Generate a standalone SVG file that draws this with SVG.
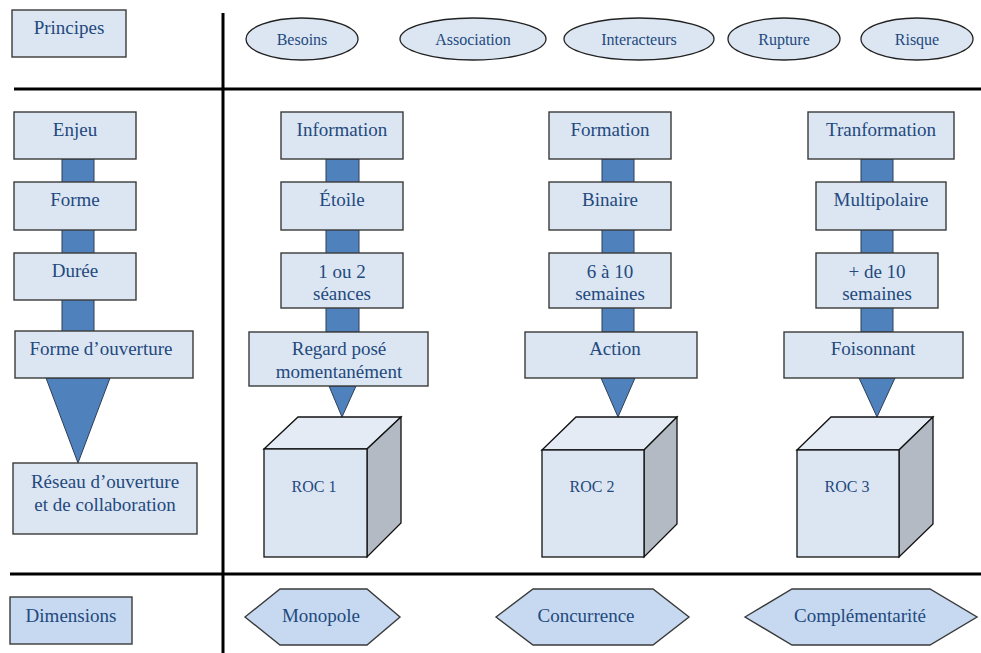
<svg xmlns="http://www.w3.org/2000/svg" width="981" height="653" viewBox="0 0 981 653">
<style>
.box{fill:#dce6f2;stroke:#3a3a3a;stroke-width:1.4}
.dim{fill:#c6d9f0;stroke:#3a3a3a;stroke-width:1.4}
.ell{fill:#dce6f2;stroke:#222;stroke-width:1.3}
.bar{fill:#4f81bd;stroke:#2f3f55;stroke-width:1}
.front{fill:#dce6f2;stroke:#111;stroke-width:1.3}
.top{fill:#e4ebf5;stroke:#111;stroke-width:1.3}
.side{fill:#b3bac3;stroke:#111;stroke-width:1.3}
.div{stroke:#000;stroke-width:3;fill:none}
text{font-family:"Liberation Serif","Times New Roman",serif;fill:#23497e;text-anchor:middle;font-size:19px}
.s{font-size:16px}
</style>
<g id="dividers">
<line class="div" x1="223" y1="13" x2="223" y2="653"/>
<line class="div" x1="14" y1="89" x2="981" y2="89"/>
<line class="div" x1="10" y1="574" x2="981" y2="574"/>
</g>
<g id="connectors">
<rect class="bar" x="62" y="159" width="32" height="173"/>
<rect class="bar" x="326" y="159" width="33" height="173"/>
<rect class="bar" x="602" y="159" width="32" height="173"/>
<rect class="bar" x="861" y="159" width="32" height="173"/>
<polygon class="bar" points="46,378 110,378 78,463"/>
<polygon class="bar" points="329,386 356,386 342,417"/>
<polygon class="bar" points="601,378 635,378 618,417"/>
<polygon class="bar" points="859,378 895,378 877,417"/>
</g>
<g id="principes"><rect class="box" x="12" y="10" width="114" height="47"/><text x="69" y="34">Principes</text></g>
<g id="besoins"><ellipse class="ell" cx="302" cy="39" rx="56" ry="21"/><text class="s" x="302" y="45">Besoins</text></g>
<g id="association"><ellipse class="ell" cx="473" cy="39" rx="73" ry="21"/><text class="s" x="473" y="45">Association</text></g>
<g id="interacteurs"><ellipse class="ell" cx="639" cy="39" rx="75" ry="21"/><text class="s" x="639" y="45">Interacteurs</text></g>
<g id="rupture"><ellipse class="ell" cx="784" cy="39" rx="56" ry="21"/><text class="s" x="784" y="45">Rupture</text></g>
<g id="risque"><ellipse class="ell" cx="917" cy="39" rx="56" ry="21"/><text class="s" x="917" y="45">Risque</text></g>

<g id="enjeu"><rect class="box" x="14" y="112" width="122" height="47"/><text x="75" y="136">Enjeu</text></g>
<g id="forme"><rect class="box" x="14" y="182" width="122" height="48"/><text x="75" y="206">Forme</text></g>
<g id="duree"><rect class="box" x="14" y="253" width="122" height="47"/><text x="75" y="277">Durée</text></g>
<g id="forme-ouverture"><rect class="box" x="15" y="331" width="178" height="47"/><text x="101" y="355">Forme d’ouverture</text></g>
<g id="reseau"><rect class="box" x="13" y="463" width="184" height="71"/><text x="105" y="488">Réseau d’ouverture</text><text x="105" y="511">et de collaboration</text></g>

<g id="information"><rect class="box" x="281" y="112" width="122" height="47"/><text x="342" y="136">Information</text></g>
<g id="etoile"><rect class="box" x="281" y="182" width="122" height="48"/><text x="342" y="206">Étoile</text></g>
<g id="seances"><rect class="box" x="281" y="253" width="122" height="55"/><text x="342" y="278">1 ou 2</text><text x="342" y="300">séances</text></g>
<g id="regard"><rect class="box" x="249" y="332" width="179" height="54"/><text x="339" y="355">Regard posé</text><text x="339" y="378">momentanément</text></g>
<g id="roc1"><polygon class="top" points="264,449 298,417 401,417 367,449"/><polygon class="side" points="367,449 401,417 401,523 367,557"/><rect class="front" x="264" y="449" width="103" height="108"/><text class="s" x="314" y="492">ROC 1</text></g>

<g id="formation"><rect class="box" x="549" y="112" width="122" height="47"/><text x="610" y="136">Formation</text></g>
<g id="binaire"><rect class="box" x="549" y="182" width="122" height="48"/><text x="610" y="206">Binaire</text></g>
<g id="semaines2"><rect class="box" x="549" y="253" width="122" height="55"/><text x="610" y="278">6 à 10</text><text x="610" y="300">semaines</text></g>
<g id="action"><rect class="box" x="525" y="332" width="172" height="46"/><text x="615" y="355">Action</text></g>
<g id="roc2"><polygon class="top" points="542,450 576,417 677,417 644,450"/><polygon class="side" points="644,450 677,417 677,524 644,557"/><rect class="front" x="542" y="450" width="102" height="107"/><text class="s" x="592" y="492">ROC 2</text></g>

<g id="tranformation"><rect class="box" x="808" y="112" width="146" height="47"/><text x="881" y="136">Tranformation</text></g>
<g id="multipolaire"><rect class="box" x="816" y="182" width="130" height="48"/><text x="881" y="206">Multipolaire</text></g>
<g id="semaines3"><rect class="box" x="816" y="253" width="122" height="55"/><text x="877" y="278">+ de 10</text><text x="877" y="300">semaines</text></g>
<g id="foisonnant"><rect class="box" x="784" y="332" width="179" height="46"/><text x="873" y="355">Foisonnant</text></g>
<g id="roc3"><polygon class="top" points="797,450 831,417 933,417 899,450"/><polygon class="side" points="899,450 933,417 933,524 899,557"/><rect class="front" x="797" y="450" width="102" height="107"/><text class="s" x="847" y="492">ROC 3</text></g>

<g id="dimensions"><rect class="dim" x="10" y="597" width="122" height="47"/><text x="71" y="622">Dimensions</text></g>
<g id="monopole"><polygon class="dim" points="245,617 280,589 367,589 400,617 367,645 280,645"/><text x="321" y="622">Monopole</text></g>
<g id="concurrence"><polygon class="dim" points="496,617 533,589 653,589 689,617 653,645 533,645"/><text x="586" y="622">Concurrence</text></g>
<g id="complementarite"><polygon class="dim" points="745,617 792,589 930,589 977,617 930,645 792,645"/><text x="860" y="622">Complémentarité</text></g>
</svg>
